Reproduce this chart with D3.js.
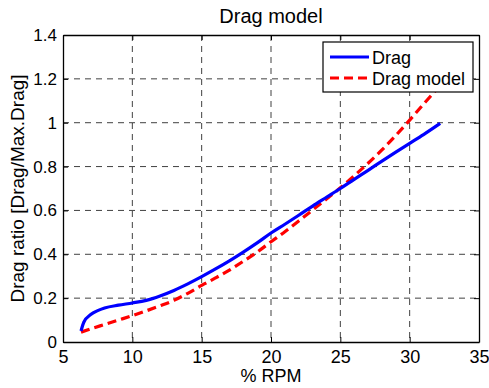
<!DOCTYPE html>
<html lang="en">
  <head>
    <meta charset="UTF-8" />
    <title>Drag model</title>
    <style>
      body {
        margin: 0;
        background: #fff;
      }
      svg text {
        font-family: "Liberation Sans", Arial, sans-serif;
        fill: #000;
      }
    </style>
  </head>
  <body>
    <svg id="chart" width="489" height="388"></svg>

    <script src="https://d3js.org/d3.v7.min.js"></script>
    <script>
      // values
      const dragRpm = [6.3, 6.5, 7, 7.5, 8, 9, 10, 11, 12, 13, 14, 15, 16, 17, 18, 19, 20, 21, 22, 23, 24, 25, 26, 27, 28, 29, 30, 31, 32.2];
      const dragRatio = [0.05, 0.09, 0.125, 0.143, 0.155, 0.168, 0.178, 0.19, 0.21, 0.235, 0.265, 0.298, 0.333, 0.37, 0.41, 0.452, 0.497, 0.537, 0.578, 0.62, 0.66, 0.7, 0.742, 0.783, 0.825, 0.866, 0.906, 0.946, 0.997];
      const modelRpm = [6.3, 7, 8, 9, 10, 11, 12, 13, 14, 15, 16, 17, 18, 19, 20, 21, 22, 23, 24, 25, 26, 27, 28, 29, 30, 31, 32.2];
      const modelRatio = [0.045, 0.06, 0.08, 0.1, 0.12, 0.142, 0.165, 0.19, 0.222, 0.258, 0.292, 0.328, 0.368, 0.41, 0.457, 0.503, 0.552, 0.602, 0.652, 0.703, 0.758, 0.815, 0.876, 0.942, 1.012, 1.085, 1.17];
      const xTicks = [5, 10, 15, 20, 25, 30, 35];
      const yTicks = [0, 0.2, 0.4, 0.6, 0.8, 1, 1.2, 1.4];

      const svg = d3.select("#chart");
      const margin = { top: 35, right: 10, bottom: 46, left: 63 };
      const width = 489 - margin.left - margin.right;
      const height = 388 - margin.top - margin.bottom;

      const x = d3.scaleLinear().domain([5, 35]).range([0, width]);
      const y = d3.scaleLinear().domain([0, 1.4]).range([height, 0]);

      const g = svg
        .append("g")
        .attr("transform", `translate(${margin.left},${margin.top})`);

      // grid
      g.selectAll(".vgrid")
        .data(xTicks.slice(1, -1))
        .enter()
        .append("line")
        .attr("x1", (d) => x(d))
        .attr("x2", (d) => x(d))
        .attr("y1", 0)
        .attr("y2", height)
        .attr("stroke", "#000")
        .attr("stroke-opacity", 0.75)
        .attr("stroke-dasharray", "6,5");
      g.selectAll(".hgrid")
        .data(yTicks.slice(1, -1))
        .enter()
        .append("line")
        .attr("x1", 0)
        .attr("x2", width)
        .attr("y1", (d) => y(d))
        .attr("y2", (d) => y(d))
        .attr("stroke", "#000")
        .attr("stroke-opacity", 0.75)
        .attr("stroke-dasharray", "6,5");

      // axes (ticks inward, like matlab)
      const xAxis = g
        .append("g")
        .attr("transform", `translate(0,${height})`)
        .call(d3.axisBottom(x).tickValues(xTicks).tickSizeInner(-5).tickSizeOuter(0).tickPadding(8));
      const xTop = g.append("g").call(d3.axisTop(x).tickValues(xTicks).tickSizeInner(-5).tickSizeOuter(0).tickFormat(""));
      const yAxis = g
        .append("g")
        .call(d3.axisLeft(y).tickValues(yTicks).tickSizeInner(-5).tickSizeOuter(0).tickPadding(6).tickFormat(d3.format("~g")));
      const yRight = g
        .append("g")
        .attr("transform", `translate(${width},0)`)
        .call(d3.axisRight(y).tickValues(yTicks).tickSizeInner(-5).tickSizeOuter(0).tickFormat(""));

      [xAxis, xTop, yAxis, yRight].forEach((a) => {
        a.attr("font-family", null).attr("font-size", null);
        a.select(".domain").attr("stroke", "#000").attr("stroke-width", 1.3);
        a.selectAll(".tick line").attr("stroke", "#000");
      });
      xAxis.selectAll("text").style("font-size", "18px");
      yAxis.selectAll("text").style("font-size", "17px");

      // series
      const line = d3
        .line()
        .x((d) => x(d[0]))
        .y((d) => y(d[1]))
        .curve(d3.curveMonotoneX);

      g.append("path")
        .datum(modelRpm.map((v, i) => [v, modelRatio[i]]))
        .attr("d", line)
        .attr("fill", "none")
        .attr("stroke", "#ff0000")
        .attr("stroke-width", 3.2)
        .attr("stroke-dasharray", "9,5");

      g.append("path")
        .datum(dragRpm.map((v, i) => [v, dragRatio[i]]))
        .attr("d", line)
        .attr("fill", "none")
        .attr("stroke", "#0000ff")
        .attr("stroke-width", 3.2);

      // legend
      const legend = g.append("g").attr("transform", "translate(260,7)");
      legend
        .append("rect")
        .attr("width", 150)
        .attr("height", 50)
        .attr("fill", "#fff")
        .attr("stroke", "#000")
        .attr("stroke-width", 1.2);
      const items = [
        { name: "Drag", color: "#0000ff", dash: null },
        { name: "Drag model", color: "#ff0000", dash: "9,5" },
      ];
      items.forEach((it, i) => {
        const yy = 15 + i * 21;
        legend
          .append("line")
          .attr("x1", 7)
          .attr("x2", 46)
          .attr("y1", yy)
          .attr("y2", yy)
          .attr("stroke", it.color)
          .attr("stroke-width", 3.2)
          .attr("stroke-dasharray", it.dash);
        legend
          .append("text")
          .attr("x", 49)
          .attr("y", yy + 6.5)
          .style("font-size", "18px")
          .text(it.name);
      });

      // title and labels
      svg
        .append("text")
        .attr("x", 271)
        .attr("y", 23)
        .attr("text-anchor", "middle")
        .style("font-size", "20px")
        .text("Drag model");
      svg
        .append("text")
        .attr("x", 271)
        .attr("y", 382)
        .attr("text-anchor", "middle")
        .style("font-size", "18px")
        .text("% RPM");
      svg
        .append("text")
        .attr("transform", `translate(24,${margin.top + height / 2}) rotate(-90)`)
        .attr("text-anchor", "middle")
        .style("font-size", "19px")
        .text("Drag ratio [Drag/Max.Drag]");
    </script>
  </body>
</html>
